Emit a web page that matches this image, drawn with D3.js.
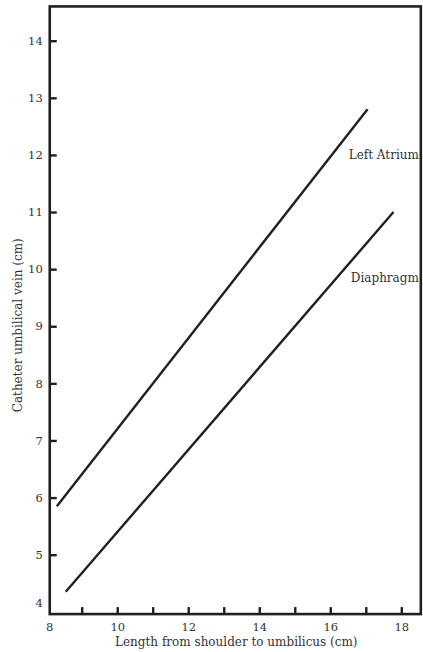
<!DOCTYPE html>
<html>
<head>
<meta charset="utf-8">
<script src="https://cdn.jsdelivr.net/npm/d3@7"></script>
<style>
  body { margin: 0; background: #fff; }
  svg text { font-family: "DejaVu Serif", serif; fill: #333; }
</style>
</head>
<body>
<div id="chart"></div>
<script>
// data
var seriesNames = ["Left Atrium", "Diaphragm"];
var leftAtrium = [{x: 8.3, y: 5.85}, {x: 17.05, y: 12.8}];
var diaphragm = [{x: 8.55, y: 4.35}, {x: 17.78, y: 11.0}];
var xTicks = [9, 10, 11, 12, 13, 14, 15, 16, 17, 18];
var yTicks = [5, 6, 7, 8, 9, 10, 11, 12, 13, 14];
var xExtent = [8.1, 18.55];
var yExtent = [3.96, 14.6];

var width = 423, height = 652;
var ink = "#231f20";

var svg = d3.select("#chart").append("svg")
  .attr("width", width).attr("height", height);

var x = d3.scaleLinear().domain([8, 18]).range([46.2, 401.3]);
var y = d3.scaleLinear().domain([4, 14]).range([611.8, 40.7]);

// lines
var line = d3.line().x(function(d){ return x(d.x); }).y(function(d){ return y(d.y); });
svg.selectAll(".series").data([leftAtrium, diaphragm]).enter()
  .append("path").attr("class", "series")
  .attr("d", line)
  .attr("fill", "none").attr("stroke", ink).attr("stroke-width", 2.4);

// series labels, right aligned near the frame
var labelAt = [{name: seriesNames[0], y: 12.0}, {name: seriesNames[1], y: 9.85}];
svg.selectAll(".slabel").data(labelAt).enter()
  .append("text").attr("class", "slabel")
  .attr("x", x(xExtent[1]) - 2).attr("y", function(d){ return y(d.y); })
  .attr("text-anchor", "end").attr("dy", "0.35em")
  .style("font-size", "12px")
  .text(function(d){ return d.name; });

// y axis, ticks pointing inward
var yAxis = d3.axisLeft(y).tickValues(yTicks).tickSizeInner(-7).tickSizeOuter(0).tickPadding(7);
var gy = svg.append("g").attr("transform", "translate(" + x(xExtent[0]) + ",0)").call(yAxis);
gy.select(".domain").remove();
gy.selectAll(".tick line").attr("stroke", ink).attr("stroke-width", 2.4);
gy.selectAll(".tick text").style("font-size", "11.5px").attr("fill", "#333");
gy.append("text").attr("x", -7).attr("y", y(4) - 8).attr("dy", "0.32em")
  .attr("text-anchor", "end").style("font-size", "11.5px").text("4");

// x axis, ticks pointing inward, labels on even values
var xAxis = d3.axisBottom(x).tickValues(xTicks).tickSizeInner(-7).tickSizeOuter(0).tickPadding(9)
  .tickFormat(function(d){ return d % 2 === 0 ? d : ""; });
var gx = svg.append("g").attr("transform", "translate(0," + y(yExtent[0]) + ")").call(xAxis);
gx.select(".domain").remove();
gx.selectAll(".tick line").attr("stroke", ink).attr("stroke-width", 2.4);
gx.selectAll(".tick text").style("font-size", "11.5px").attr("fill", "#333");
gx.append("text").attr("x", x(xExtent[0])).attr("y", 9).attr("dy", "0.71em")
  .attr("text-anchor", "middle").style("font-size", "11.5px").text("8");

// frame
svg.append("rect")
  .attr("x", x(xExtent[0])).attr("y", y(yExtent[1]))
  .attr("width", x(xExtent[1]) - x(xExtent[0]))
  .attr("height", y(yExtent[0]) - y(yExtent[1]))
  .attr("fill", "none").attr("stroke", ink).attr("stroke-width", 2.6);

// axis titles
svg.append("text")
  .attr("x", (x(xExtent[0]) + x(xExtent[1])) / 2 + 1).attr("y", 646)
  .attr("text-anchor", "middle").style("font-size", "12px")
  .text("Length from shoulder to umbilicus (cm)");

svg.append("text")
  .attr("transform", "translate(22," + ((y(yExtent[0]) + y(yExtent[1])) / 2 + 15) + ") rotate(-90)")
  .attr("text-anchor", "middle").style("font-size", "12px")
  .text("Catheter umbilical vein (cm)");
</script>
</body>
</html>
